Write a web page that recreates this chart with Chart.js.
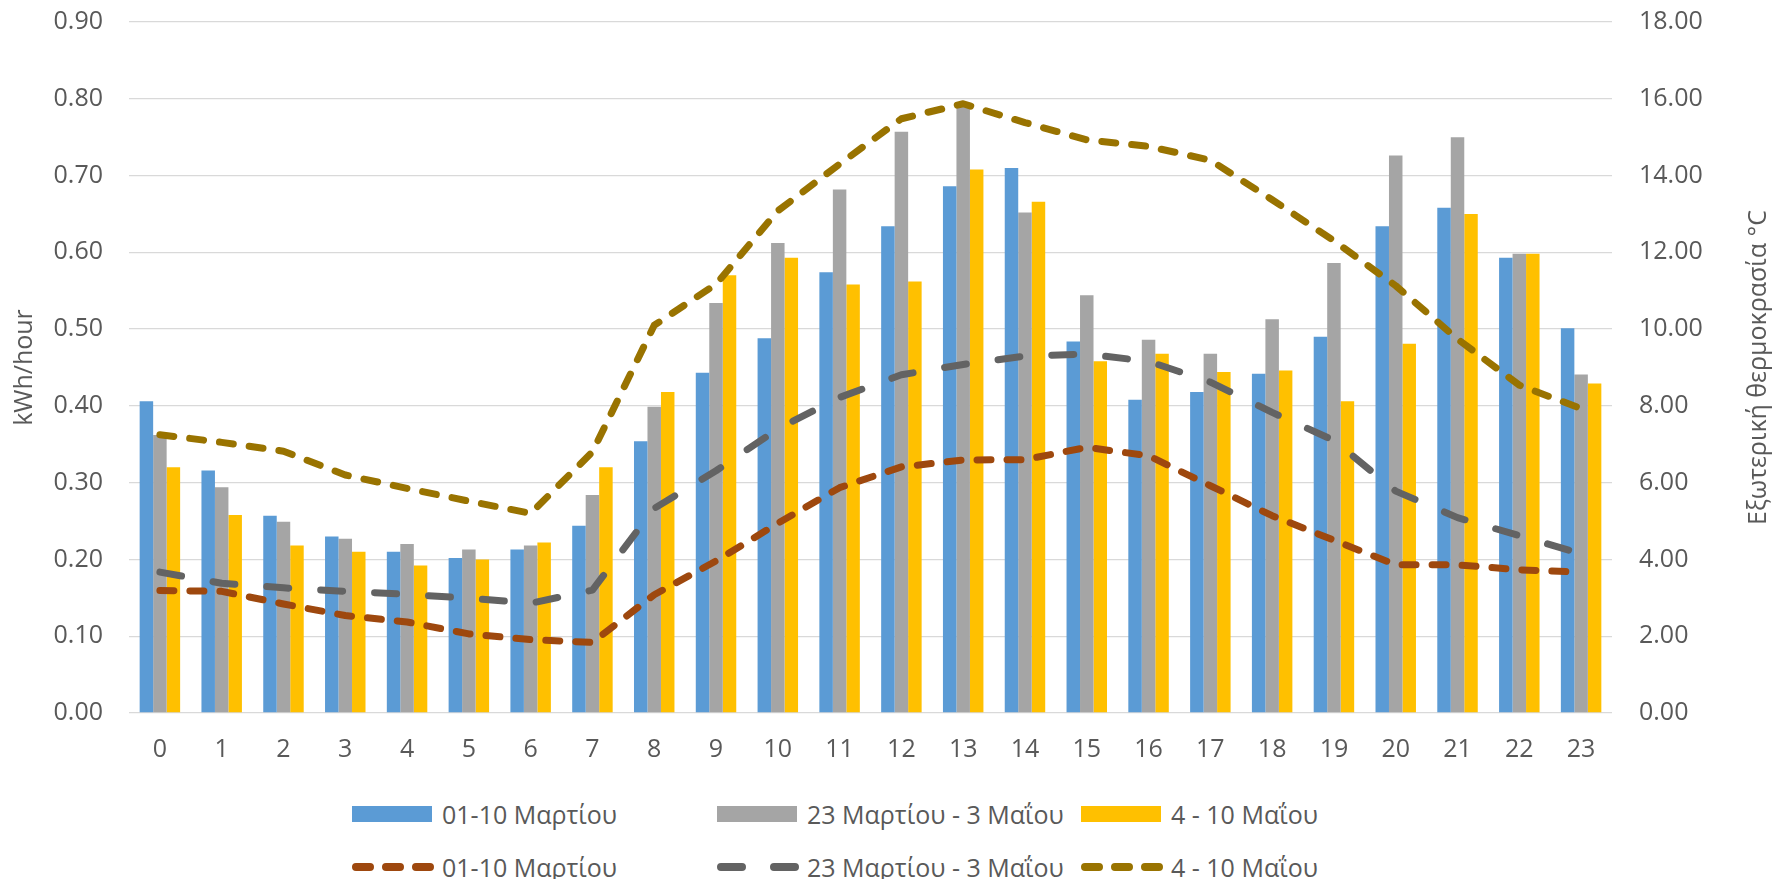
<!DOCTYPE html>
<html>
<head>
<meta charset="utf-8">
<script src="https://cdn.jsdelivr.net/npm/chart.js@4/dist/chart.umd.min.js"></script>
<style>
    body{margin:0;background:#fff;}
    #wrap{position:relative;width:1774px;height:879px;font-family:"Open Sans",sans-serif;color:#595959;}
    #chartBox{position:absolute;left:0;top:0;width:1774px;height:780px;}
    .leg{position:absolute;height:30px;display:flex;align-items:center;font-size:25px;white-space:nowrap;}
    .leg .box{width:80px;height:16px;margin-right:10px;}
    .leg svg{margin-right:10px;overflow:visible;}
</style>
</head>
<body>
<div id="wrap">
    <div id="chartBox"><canvas id="hourly"></canvas></div>
    <div id="legend"></div>
</div>
<script>
const hours=["0","1","2","3","4","5","6","7","8","9","10","11","12","13","14","15","16","17","18","19","20","21","22","23"];

const periodNames=["01-10 Μαρτίου","23 Μαρτίου - 3 Μαΐου","4 - 10 Μαΐου"];

// kWh per hour, bars
const kwhMarch=[0.406,0.316,0.257,0.230,0.210,0.202,0.213,0.244,0.354,0.443,0.488,0.574,0.634,0.686,0.710,0.484,0.408,0.418,0.442,0.490,0.634,0.658,0.593,0.501];
const kwhAprilMay=[0.362,0.294,0.249,0.227,0.220,0.213,0.218,0.284,0.399,0.534,0.612,0.682,0.757,0.792,0.652,0.544,0.486,0.468,0.513,0.586,0.726,0.750,0.598,0.441];
const kwhMay=[0.320,0.258,0.218,0.210,0.192,0.200,0.222,0.320,0.418,0.570,0.593,0.558,0.562,0.708,0.666,0.458,0.468,0.444,0.446,0.406,0.481,0.650,0.598,0.429];

// outside temperature, dashed lines (right axis)
const tempMarch=[3.19,3.17,2.84,2.54,2.37,2.06,1.91,1.84,3.08,3.96,4.94,5.87,6.41,6.59,6.60,6.92,6.70,5.92,5.14,4.50,3.86,3.86,3.73,3.67];
const tempAprilMay=[3.67,3.38,3.26,3.17,3.09,2.99,2.86,3.20,5.33,6.31,7.40,8.22,8.81,9.08,9.30,9.35,9.16,8.62,7.83,7.10,5.78,5.09,4.62,4.15];
const tempMay=[7.25,7.05,6.82,6.20,5.85,5.52,5.20,6.80,10.10,11.17,13.08,14.30,15.48,15.87,15.38,14.93,14.76,14.40,13.37,12.30,11.13,9.74,8.54,7.93];

const leftTitle="kWh/hour";
const rightTitle="Εξωτερική θερμοκρασία °C";

const barColors=["#5B9BD5","#A5A5A5","#FFC000"];
const lineColors=["#9E480E","#636363","#997300"];
const lineDashes=[[14,16],[22,32],[14,16]];

const textColor="#595959";
const fontFamily="'Open Sans', sans-serif";

function makeBar(label,data,color){
    return {
        type:"bar",
        label:label,
        data:data,
        backgroundColor:color,
        borderWidth:0,
        yAxisID:"y",
        order:1,
        categoryPercentage:0.655,
        barPercentage:1.0
    };
}

function makeLine(label,data,color,dash){
    return {
        type:"line",
        label:label,
        data:data,
        borderColor:color,
        backgroundColor:color,
        borderWidth:7,
        borderDash:dash,
        borderCapStyle:"round",
        borderJoinStyle:"round",
        pointRadius:0,
        fill:false,
        tension:0,
        yAxisID:"y1",
        order:0
    };
}

/*titles drawn by hand so the right one reads bottom to top*/
const axisTitles={
    id:"axisTitles",
    afterDraw(chart){
        let ctx=chart.ctx;
        let area=chart.chartArea;
        let midY=(area.top+area.bottom)/2;
        ctx.save();
        ctx.fillStyle=textColor;
        ctx.font="25px "+fontFamily;
        ctx.textAlign="center";
        ctx.textBaseline="middle";

        ctx.save();
        ctx.translate(25,midY);
        ctx.rotate(-Math.PI/2);
        ctx.fillText(leftTitle,0,0);
        ctx.restore();

        ctx.save();
        ctx.translate(1759,midY);
        ctx.rotate(-Math.PI/2);
        ctx.fillText(rightTitle,0,0);
        ctx.restore();

        ctx.restore();
    }
};

// fixed width for a y axis, and drop the extra top/bottom room the tick padding adds
function fixYAxis(width){
    return function(scale){
        scale.width=width;
        scale.paddingTop=15;
        scale.paddingBottom=15;
    };
}

function makeGraph(){
    let canvas=document.getElementById("hourly").getContext("2d");

    let datasets=[
        makeBar(periodNames[0],kwhMarch,barColors[0]),
        makeBar(periodNames[1],kwhAprilMay,barColors[1]),
        makeBar(periodNames[2],kwhMay,barColors[2]),
        makeLine(periodNames[0],tempMarch,lineColors[0],lineDashes[0]),
        makeLine(periodNames[1],tempAprilMay,lineColors[1],lineDashes[1]),
        makeLine(periodNames[2],tempMay,lineColors[2],lineDashes[2])
    ];

    let tickFont={family:fontFamily,size:25};

    new Chart(canvas,{
        data:{labels:hours,datasets:datasets},
        plugins:[axisTitles],
        options:{
            responsive:true,
            maintainAspectRatio:false,
            animation:false,
            layout:{padding:{top:22,left:0,right:0,bottom:0}},
            plugins:{legend:{display:false},tooltip:{enabled:false}},
            scales:{
                x:{
                    grid:{display:false,drawTicks:false},
                    border:{display:false},
                    ticks:{color:textColor,font:tickFont,padding:22,maxRotation:0,autoSkip:false},
                    afterFit(scale){ scale.height=67; }
                },
                y:{
                    position:"left",
                    min:0,
                    max:0.9,
                    grid:{color:"#D9D9D9",lineWidth:1.3,drawTicks:false},
                    border:{display:false},
                    ticks:{stepSize:0.1,color:textColor,font:tickFont,padding:26,
                        callback:(v)=>Number(v).toFixed(2)},
                    afterFit:fixYAxis(129)
                },
                y1:{
                    position:"right",
                    min:0,
                    max:18,
                    grid:{display:false,drawTicks:false},
                    border:{display:false},
                    ticks:{stepSize:2,color:textColor,font:tickFont,padding:27,
                        callback:(v)=>Number(v).toFixed(2)},
                    afterFit:fixYAxis(162)
                }
            }
        }
    });
}

/*legend laid out in fixed columns like the original*/
function makeLegend(){
    let legend=document.getElementById("legend");
    let columns=[352,717,1081];
    let rows=[799,852];

    for(let i=0;i<periodNames.length;i++){
        let item=document.createElement("div");
        item.className="leg";
        item.style.left=columns[i]+"px";
        item.style.top=rows[0]+"px";
        item.innerHTML=`<div class="box" style="background:${barColors[i]}"></div><span>${periodNames[i]}</span>`;
        legend.appendChild(item);
    }

    for(let i=0;i<periodNames.length;i++){
        let item=document.createElement("div");
        item.className="leg";
        item.style.left=columns[i]+"px";
        item.style.top=rows[1]+"px";
        let dash=i==1?"21 32":"14 16";
        item.innerHTML=`<svg width="80" height="16"><line x1="4" y1="8" x2="78" y2="8" stroke="${lineColors[i]}" stroke-width="8" stroke-linecap="round" stroke-dasharray="${dash}"/></svg><span>${periodNames[i]}</span>`;
        legend.appendChild(item);
    }
}

makeGraph();
makeLegend();
</script>
</body>
</html>
